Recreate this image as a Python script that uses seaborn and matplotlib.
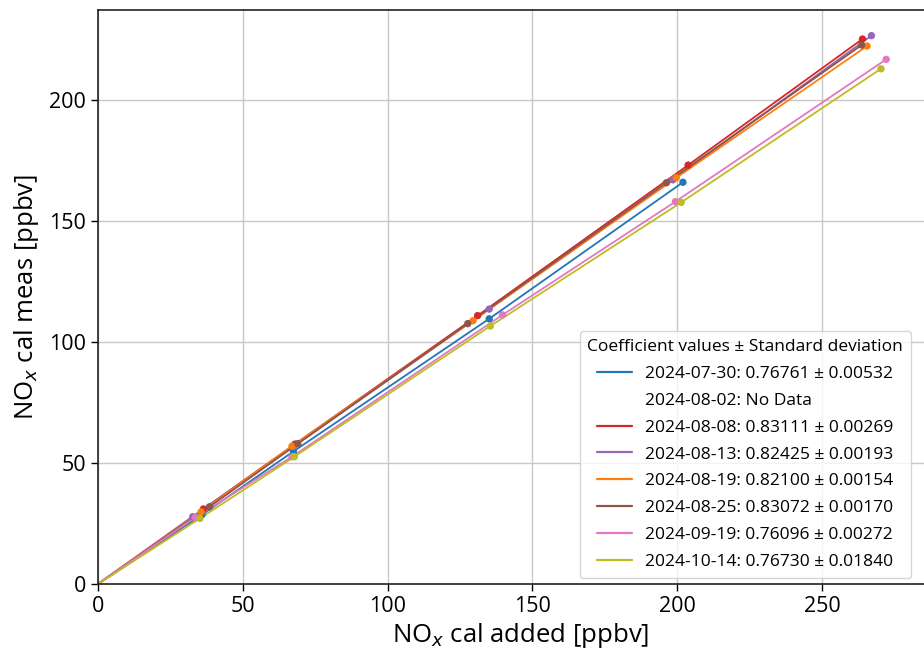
import matplotlib
matplotlib.use("Agg")
import matplotlib.pyplot as plt
import seaborn as sns
import pandas as pd
from matplotlib.lines import Line2D

sns.set_style("ticks")
plt.rcParams['font.family'] = ['Open Sans', 'DejaVu Sans']
plt.rcParams['text.color'] = 'black'
plt.rcParams['axes.labelcolor'] = 'black'
plt.rcParams['xtick.color'] = 'black'
plt.rcParams['ytick.color'] = 'black'

dates = ["2024-07-30", "2024-08-08", "2024-08-13", "2024-08-19",
         "2024-08-25", "2024-09-19", "2024-10-14"]
colors = ["#1f77b4", "#d62728", "#9467bd", "#ff7f0e", "#8c564b", "#e377c2", "#bcbd22"]

x_2024_07_30 = [35.9, 67.5, 135.1, 202.0]
y_2024_07_30 = [28.6, 54.8, 109.6, 166.0]
x_2024_08_08 = [36.4, 68.0, 131.1, 203.8, 264.0]
y_2024_08_08 = [31.0, 57.8, 110.9, 173.1, 225.2]
x_2024_08_13 = [32.7, 67.5, 135.1, 198.5, 267.1]
y_2024_08_13 = [27.8, 56.8, 113.6, 167.0, 226.6]
x_2024_08_19 = [35.6, 67.0, 129.5, 199.7, 265.6]
y_2024_08_19 = [29.8, 57.0, 108.8, 167.9, 222.3]
x_2024_08_25 = [38.5, 69.0, 127.7, 196.3, 263.7]
y_2024_08_25 = [31.9, 58.0, 107.6, 165.8, 222.7]
x_2024_09_19 = [33.6, 67.0, 139.7, 199.4, 272.2]
y_2024_09_19 = [27.5, 52.6, 111.2, 158.0, 216.8]
x_2024_10_14 = [35.2, 67.8, 135.5, 201.4, 270.4]
y_2024_10_14 = [27.1, 52.6, 106.6, 157.7, 212.9]

xs = [x_2024_07_30, x_2024_08_08, x_2024_08_13, x_2024_08_19,
      x_2024_08_25, x_2024_09_19, x_2024_10_14]
ys = [y_2024_07_30, y_2024_08_08, y_2024_08_13, y_2024_08_19,
      y_2024_08_25, y_2024_09_19, y_2024_10_14]

legend_labels = [
    "2024-07-30: 0.76761 ± 0.00532",
    "2024-08-02: No Data",
    "2024-08-08: 0.83111 ± 0.00269",
    "2024-08-13: 0.82425 ± 0.00193",
    "2024-08-19: 0.82100 ± 0.00154",
    "2024-08-25: 0.83072 ± 0.00170",
    "2024-09-19: 0.76096 ± 0.00272",
    "2024-10-14: 0.76730 ± 0.01840",
]
legend_title = "Coefficient values ± Standard deviation"

fig = plt.figure(figsize=(9.24, 6.58), dpi=100)
ax = fig.add_axes([98/924, 74/658, 1.02 - 98/924, (584-10)/658])

for d, c, x, y in zip(dates, colors, xs, ys):
    line_df = pd.DataFrame({"x": [0.0] + x, "y": [0.0] + y})
    sns.lineplot(data=line_df, x="x", y="y", color=c, lw=1.3, sort=True,
                 estimator=None, ax=ax)
    pt_df = pd.DataFrame({"x": x, "y": y})
    sns.scatterplot(data=pt_df, x="x", y="y", color=c, s=28, edgecolor="none",
                    ax=ax, zorder=3)

ax.set_xlim(0, (942 - 98) / 2.894)
ax.set_ylim(0, (584 - 10) / 2.42)
ax.set_xticks([0, 50, 100, 150, 200, 250])
ax.set_yticks([0, 50, 100, 150, 200])
ax.grid(True, color="#c8c8c8", lw=1.0)
ax.set_axisbelow(True)
ax.tick_params(labelsize=15.5, length=5, width=1)
ax.set_xlabel(r"NO$_x$ cal added [ppbv]", fontsize=18.5, labelpad=3)
ax.set_ylabel(r"NO$_x$ cal meas [ppbv]", fontsize=18.5, labelpad=6)
for s in ["left", "bottom", "top", "right"]:
    ax.spines[s].set_color("#222222")
    ax.spines[s].set_linewidth(1.2)

handles = []
ci = 0
for lab in legend_labels:
    if "No Data" in lab:
        handles.append(Line2D([], [], color="none"))
    else:
        handles.append(Line2D([], [], color=colors[ci], lw=1.6))
        ci += 1
axes_width_px = (1.02 * 924) - 98
leg = ax.legend(handles, legend_labels, title=legend_title, loc="lower right",
                bbox_to_anchor=((911 - 98) / axes_width_px, (584 - 578) / 574),
                borderaxespad=0.0,
                fontsize=12.5, title_fontsize=12.5, frameon=True,
                handlelength=2.0, borderpad=0.45, labelspacing=0.62)
leg.get_frame().set_edgecolor("#cccccc")

fig.savefig("out.png", dpi=100)
